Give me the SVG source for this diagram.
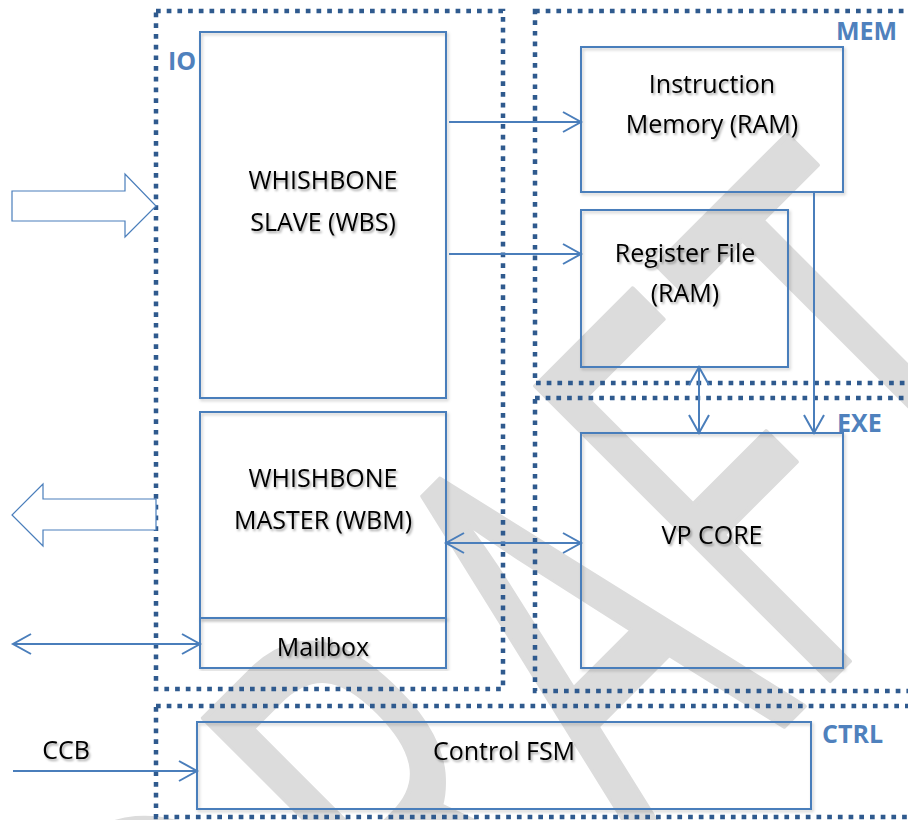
<svg xmlns="http://www.w3.org/2000/svg" width="908" height="820" viewBox="0 0 908 820">
<defs>
<filter id="tsh" x="-10%" y="-30%" width="130%" height="170%"><feDropShadow dx="1.5" dy="2" stdDeviation="1.3" flood-color="#000" flood-opacity="0.35"/></filter>
<filter id="bsh" x="-5%" y="-5%" width="110%" height="110%"><feDropShadow dx="1.5" dy="2" stdDeviation="1.5" flood-color="#000" flood-opacity="0.2"/></filter>
<marker id="ah" markerUnits="userSpaceOnUse" markerWidth="22" markerHeight="24" refX="19" refY="11" orient="auto-start-reverse" viewBox="0 0 22 24"><path d="M1,1 L19,11 L1,21" fill="none" stroke="#4A7EBB" stroke-width="2"/></marker>
</defs>
<style>
.wm{font-family:"Open Sans","Liberation Sans",sans-serif;font-size:583px;fill:#dcdcdc;stroke:#dcdcdc;stroke-width:5;stroke-linejoin:round}
.grp{fill:none;stroke:#2F5A8E;stroke-width:4.5;stroke-dasharray:4.7 6}
.box{fill:none;stroke:#4A7EBB;stroke-width:2}
.t{font-family:"Open Sans","Liberation Sans",sans-serif;font-size:25px;fill:#000;text-anchor:middle}
.lbl{font-family:"Open Sans","Liberation Sans",sans-serif;font-size:25px;font-weight:bold;fill:#4F81BD}
.c{fill:none;stroke:#4A7EBB;stroke-width:2}
.blk{fill:#fff;stroke:#4A7EBB;stroke-width:1.2}
</style>
<rect width="908" height="820" fill="#fff"/>
<g id="watermark"><text class="wm" transform="rotate(-45) scale(0.6,1)" x="-1095 -665 -251 118 455" y="1068">DRAFT</text></g>
<g id="IO"><rect class="grp" x="156" y="11" width="347" height="678"/><text class="lbl" x="168" y="70">IO</text></g>
<g id="MEM"><rect class="grp" x="535" y="11" width="400" height="372"/><text class="lbl" x="836" y="40">MEM</text></g>
<g id="EXE"><rect class="grp" x="535" y="398" width="400" height="293"/><text class="lbl" x="837" y="432">EXE</text></g>
<g id="CTRL"><rect class="grp" x="156" y="706" width="780" height="111"/><text class="lbl" x="822" y="743">CTRL</text></g>
<g id="WBS"><rect class="box" filter="url(#bsh)" x="200" y="32" width="246" height="366"/><text class="t" filter="url(#tsh)" x="323" y="189">WHISHBONE</text><text class="t" filter="url(#tsh)" x="323" y="231">SLAVE (WBS)</text></g>
<g id="WBM"><rect class="box" filter="url(#bsh)" x="200" y="412" width="246" height="206"/><text class="t" filter="url(#tsh)" x="323" y="487">WHISHBONE</text><text class="t" filter="url(#tsh)" x="323" y="529">MASTER (WBM)</text></g>
<g id="Mailbox"><rect class="box" filter="url(#bsh)" x="200" y="618" width="246" height="50"/><text class="t" filter="url(#tsh)" x="323" y="656">Mailbox</text></g>
<g id="IMEM"><rect class="box" filter="url(#bsh)" x="581" y="47" width="262" height="145"/><text class="t" filter="url(#tsh)" x="712" y="93">Instruction</text><text class="t" filter="url(#tsh)" x="712" y="133">Memory (RAM)</text></g>
<g id="RF"><rect class="box" filter="url(#bsh)" x="581" y="210" width="207" height="157"/><text class="t" filter="url(#tsh)" x="685" y="262">Register File</text><text class="t" filter="url(#tsh)" x="685" y="302">(RAM)</text></g>
<g id="VPCORE"><rect class="box" filter="url(#bsh)" x="581" y="433" width="262" height="235"/><text class="t" filter="url(#tsh)" x="712" y="544">VP CORE</text></g>
<g id="FSM"><rect class="box" filter="url(#bsh)" x="197" y="722" width="614" height="87"/><text class="t" filter="url(#tsh)" x="504" y="760">Control FSM</text></g>
<g id="IN"><polygon class="blk" points="12,191 125,191 125,174 156,206 125,237 125,221 12,221"/></g>
<g id="OUT"><polygon class="blk" points="156,499 43,499 43,484 12,515 43,546 43,530 156,530"/></g>
<g id="CCB"><text class="t" filter="url(#tsh)" font-size="24" x="66" y="759">CCB</text></g>
<g id="connectors">
<line class="c" x1="449" y1="122" x2="581" y2="122" marker-end="url(#ah)"/>
<line class="c" x1="449" y1="254" x2="581" y2="254" marker-end="url(#ah)"/>
<line class="c" x1="446" y1="543" x2="581" y2="543" marker-start="url(#ah)" marker-end="url(#ah)"/>
<line class="c" x1="699" y1="367" x2="699" y2="433" marker-start="url(#ah)" marker-end="url(#ah)"/>
<line class="c" x1="814" y1="192" x2="814" y2="433" marker-end="url(#ah)"/>
<line class="c" x1="13" y1="644" x2="200" y2="644" marker-start="url(#ah)" marker-end="url(#ah)"/>
<line class="c" x1="13" y1="771" x2="197" y2="771" marker-end="url(#ah)"/>
</g>
</svg>
